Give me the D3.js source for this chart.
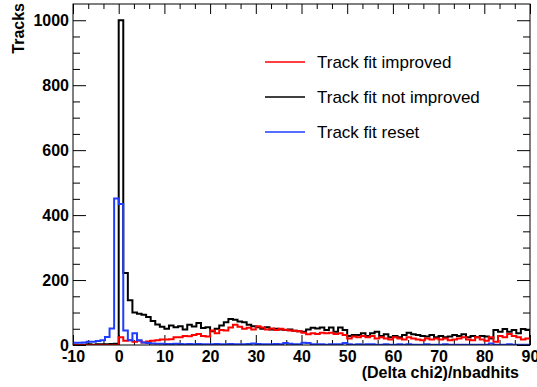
<!DOCTYPE html>
<html>
<head>
<meta charset="utf-8">
<script src="https://d3js.org/d3.v7.min.js"></script>
<style>
  body { margin: 0; background: #fff; }
  text { font-family: "Liberation Sans", Arial, Helvetica, sans-serif; }
</style>
</head>
<body>
<div id="myPlot"></div>
<script>
// bins of width 1 from -10 to 90
const binLow = d3.range(-10, 90);

const notImproved = [
  1, 0, 1, 2, 1, 2, 2, 2, 3, 4,
  1000, 222, 138, 100, 96, 93, 86, 74, 63, 56,
  50, 60, 55, 58, 48, 62, 57, 68, 52, 55,
  42, 50, 60, 70, 80, 78, 72, 70, 62, 58,
  55, 50, 55, 48, 50, 48, 46, 48, 44, 42,
  41, 48, 53, 51, 54, 46, 54, 41, 54, 46,
  28, 31, 31, 36, 28, 36, 41, 28, 33, 24,
  28, 24, 31, 38, 33, 31, 28, 26, 31, 24,
  28, 24, 26, 31, 28, 33, 24, 28, 24, 28,
  26, 20, 46, 41, 49, 41, 46, 36, 49, 46
];

const improved = [
  0, 0, 0, 0, 0, 0, 0, 0, 0, 0,
  24, 13, 15, 10, 13, 8, 11, 13, 15, 17,
  17, 18, 24, 24, 28, 27, 31, 34, 28, 26,
  45, 36, 46, 45, 54, 62, 56, 50, 53, 48,
  58, 54, 48, 51, 46, 50, 47, 45, 44, 42,
  38, 33, 36, 34, 38, 36, 38, 34, 36, 31,
  20, 26, 24, 28, 24, 28, 20, 24, 20, 17,
  24, 20, 17, 24, 20, 17, 15, 20, 17, 20,
  17, 20, 15, 17, 20, 24, 17, 15, 24, 17,
  13, 24, 10, 28, 24, 34, 28, 24, 17, 20
];

const reset = [
  7, 7, 8, 10, 10, 12, 15, 25, 51, 451,
  434, 45, 15, 36, 15, 8, 6, 5, 4, 4,
  3, 3, 4, 3, 2, 3, 2, 3, 2, 2,
  2, 3, 2, 2, 3, 2, 2, 2, 3, 5,
  3, 2, 2, 2, 3, 2, 6, 4, 2, 2,
  7, 6, 2, 2, 2, 1, 2, 2, 2, 6,
  2, 1, 2, 1, 2, 2, 1, 1, 2, 1,
  1, 2, 1, 2, 1, 1, 1, 2, 1, 1,
  1, 2, 1, 1, 1, 1, 1, 1, 1, 1,
  1, 5, 1, 1, 1, 2, 1, 1, 1, 1
];

const legendLabels = ["Track fit improved", "Track fit not improved", "Track fit reset"];
const xTicks = d3.range(-10, 91, 10);
const yTicks = d3.range(0, 1001, 200);

const width = 537, height = 387;
const margin = { top: 4, right: 7, bottom: 42, left: 73 };

const svg = d3.select("#myPlot").append("svg")
  .attr("width", width)
  .attr("height", height);

const x = d3.scaleLinear().domain([-10, 90]).range([margin.left, width - margin.right]);
const y = d3.scaleLinear().domain([0, 1050]).range([height - margin.bottom, margin.top]);

svg.append("clipPath").attr("id", "clip")
  .append("rect")
  .attr("x", x(-10)).attr("y", y(1050))
  .attr("width", x(90) - x(-10)).attr("height", y(0) - y(1050));

const xMinor = d3.range(-10, 90.01, 10 / 3).filter((v, i) => i % 3 !== 0);
const yMinor = d3.range(0, 1050, 50).filter(v => v % 200 !== 0);
const plain = d => String(d);   // keep the ascii hyphen like the original

function styleAxis(g) {
  g.select(".domain").remove();
  g.selectAll("line").attr("stroke", "#000").attr("stroke-width", 1);
  g.selectAll("text").attr("font-size", 16).attr("font-weight", "bold").attr("fill", "#000");
}

// bottom
svg.append("g").attr("transform", `translate(0,${y(0)})`)
  .call(d3.axisBottom(x).tickValues(xTicks).tickSize(-10).tickPadding(6).tickFormat(plain))
  .call(styleAxis);
svg.append("g").attr("transform", `translate(0,${y(0)})`)
  .call(d3.axisBottom(x).tickValues(xMinor).tickSize(-5).tickFormat(""))
  .call(styleAxis);
// top
svg.append("g").attr("transform", `translate(0,${y(1050)})`)
  .call(d3.axisTop(x).tickValues(xTicks).tickSize(-10).tickFormat(""))
  .call(styleAxis);
svg.append("g").attr("transform", `translate(0,${y(1050)})`)
  .call(d3.axisTop(x).tickValues(xMinor).tickSize(-5).tickFormat(""))
  .call(styleAxis);
// left
svg.append("g").attr("transform", `translate(${x(-10)},0)`)
  .call(d3.axisLeft(y).tickValues(yTicks).tickSize(-13).tickPadding(4).tickFormat(plain))
  .call(styleAxis);
svg.append("g").attr("transform", `translate(${x(-10)},0)`)
  .call(d3.axisLeft(y).tickValues(yMinor).tickSize(-7).tickFormat(""))
  .call(styleAxis);
// right
svg.append("g").attr("transform", `translate(${x(90)},0)`)
  .call(d3.axisRight(y).tickValues(yTicks).tickSize(-13).tickFormat(""))
  .call(styleAxis);
svg.append("g").attr("transform", `translate(${x(90)},0)`)
  .call(d3.axisRight(y).tickValues(yMinor).tickSize(-7).tickFormat(""))
  .call(styleAxis);

// histograms
const line = d3.line().x(d => x(d[0])).y(d => y(d[1])).curve(d3.curveStepAfter);
function histPoints(vals) {
  const pts = [[-10, 0]];
  vals.forEach((v, i) => pts.push([binLow[i], v]));
  pts.push([90, vals[vals.length - 1]]);
  pts.push([90, 0]);
  return pts;
}

const series = [
  { vals: notImproved, color: "#000000" },
  { vals: improved, color: "#ff0000" },
  { vals: reset, color: "#1f3dff" }
];

const plot = svg.append("g").attr("clip-path", "url(#clip)");
series.forEach(s => {
  plot.append("path")
    .datum(histPoints(s.vals))
    .attr("fill", "none")
    .attr("stroke", s.color)
    .attr("stroke-width", 2)
    .attr("d", line);
});

// frame
svg.append("rect")
  .attr("x", x(-10)).attr("y", y(1050))
  .attr("width", x(90) - x(-10)).attr("height", y(0) - y(1050))
  .attr("fill", "none").attr("stroke", "#000").attr("stroke-width", 1);

// axis titles
svg.append("text")
  .attr("x", x(90) - 11).attr("y", 378)
  .attr("text-anchor", "end")
  .attr("font-size", 16).attr("font-weight", "bold")
  .text("(Delta chi2)/nbadhits");

svg.append("text")
  .attr("transform", `translate(24,${y(1050) - 1}) rotate(-90)`)
  .attr("text-anchor", "end")
  .attr("font-size", 16).attr("font-weight", "bold")
  .text("Tracks");

// legend
const legendColors = ["#ff0000", "#000000", "#1f3dff"];
const leg = svg.append("g");
legendLabels.forEach((t, i) => {
  const ly = 62 + i * 35;
  leg.append("line")
    .attr("x1", 265).attr("x2", 305).attr("y1", ly).attr("y2", ly)
    .attr("stroke", legendColors[i]).attr("stroke-width", 1.5);
  leg.append("text")
    .attr("x", 317).attr("y", ly + 6)
    .attr("font-size", 17)
    .text(t);
});
</script>
</body>
</html>
